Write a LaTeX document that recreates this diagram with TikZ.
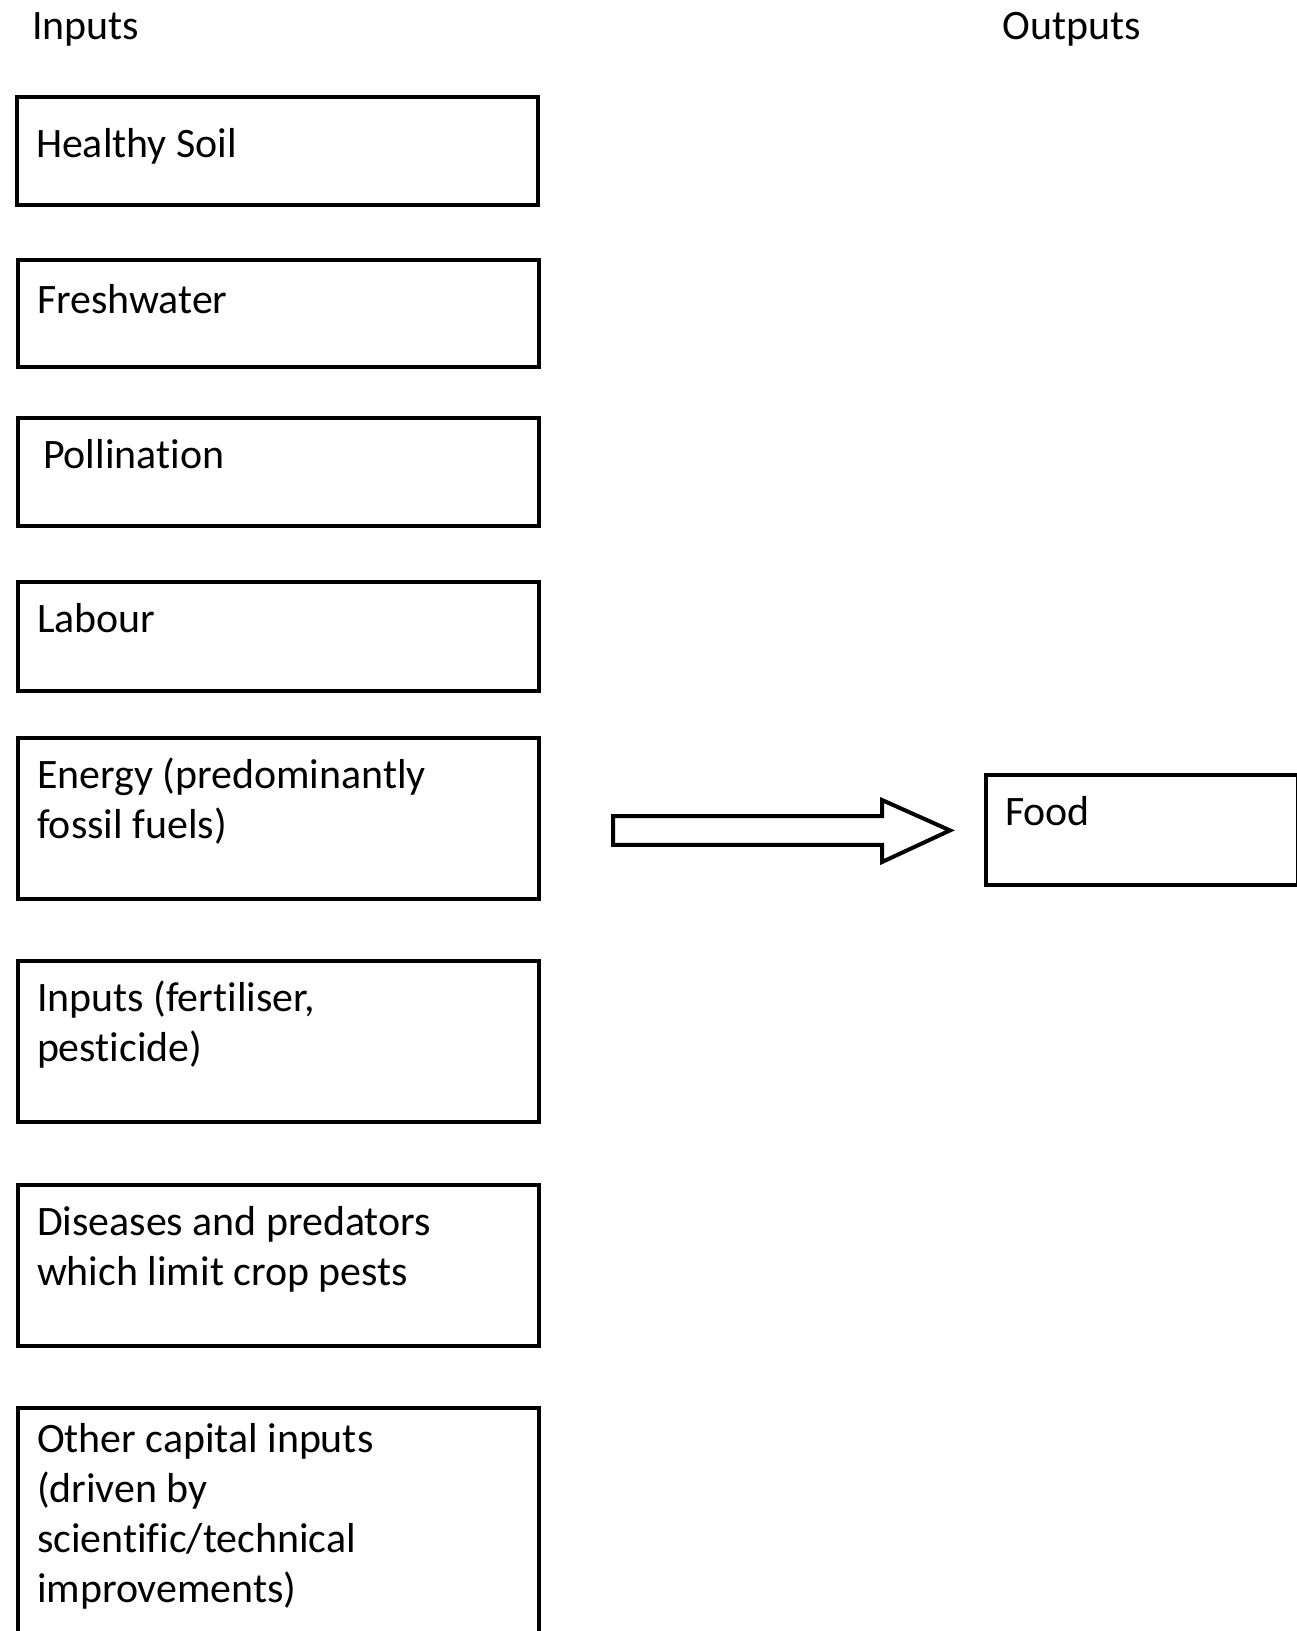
\documentclass[tikz,border=0pt]{standalone}
\usepackage{fontspec}
\setmainfont{Carlito}[Ligatures={NoCommon,NoContextual}, Contextuals=NoAlternate, RawFeature={-dlig}]
\usepackage{tikz}

\tikzset{
  inbox/.style = {draw, line width=2pt, anchor=north west, align=flush left,
    text width=241.5pt, inner xsep=9.5pt, inner ysep=0pt, text height=25pt},
  head/.style = {anchor=base west, inner sep=0pt}
}

\begin{document}
\begin{tikzpicture}[x=1pt, y=-1pt, font=\fontsize{20.95}{25}\selectfont]
        \useasboundingbox (0,0) rectangle (648,815.5);
        \node[head] (inputs) at (16,20) {Inputs};
        \node[head] (outputs) at (501,20) {Outputs};
        \node[inbox, text depth=24.1pt, text height=30pt] (soil) at (7.5,47.6) {Healthy Soil};
        \node[inbox, text depth=26.5pt, text height=27pt] (water) at (8,129) {Freshwater};
        \node[inbox, text depth=29pt] (pollen) at (8,208) {\hspace*{3pt}Pollination};
        \node[inbox, text depth=29.5pt] (labour) at (8,290) {Labour};
        \node[inbox, text depth=55.5pt] (energy) at (8,368) {Energy (predominantly\\fossil fuels)};
        \node[inbox, text depth=55.5pt] (fert) at (8,479.5) {Inputs (fertiliser,\\pesticide)};
        \node[inbox, text depth=55.5pt] (pests) at (8,591.5) {Diseases and predators\\which limit crop pests};
        \node[inbox, text depth=110pt, text height=22pt] (capital) at (8,703) {Other capital inputs\\(driven by\\scientific/technical\\improvements)};
        \node[inbox, text width=137pt, text depth=30pt] (food) at (492,386.5) {Food};
        \coordinate (tail) at (306.5,415.2);
        \draw[line width=2pt] (tail) ++(0,-7.2) -- ++(134.5,0) -- ++(0,-8) -- (475,415.2)
          -- (441,431) -- ++(0,-8.6) -- ++(-134.5,0) -- cycle;
      \end{tikzpicture}
\end{document}
